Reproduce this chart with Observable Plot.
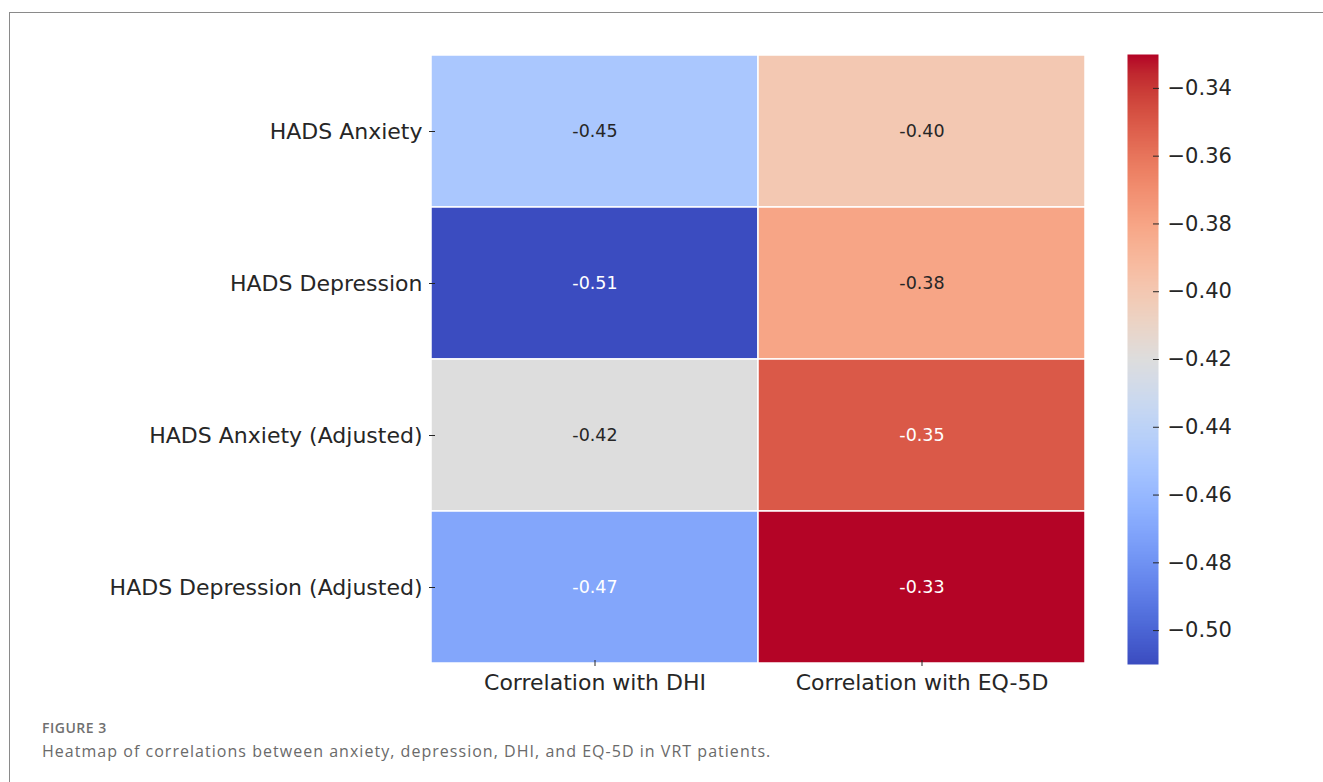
<!DOCTYPE html>
<html>
<head>
<meta charset="utf-8">
<script src="https://cdn.jsdelivr.net/npm/d3@7"></script>
<script src="https://cdn.jsdelivr.net/npm/@observablehq/plot@0.6"></script>
<style>
  html, body { margin: 0; padding: 0; background: #fff; }
  #page { position: relative; width: 1323px; height: 782px; overflow: hidden; background: #fff; }
  #frame { position: absolute; left: 9px; top: 12px; width: 1330px; height: 800px;
           border-left: 1.5px solid #8a8a8a; border-top: 1.5px solid #8a8a8a; }
  #heat { position: absolute; left: 0; top: 0; }
  #bar { position: absolute; left: 1100px; top: 0; }
  #fig-label { position: absolute; left: 42px; top: 718px; font: 600 14px "Open Sans", sans-serif;
               color: #707070; letter-spacing: 0.5px; }
  #fig-caption { position: absolute; left: 42px; top: 740px; font: 400 16px "Open Sans", sans-serif;
                 color: #6a6a6a; letter-spacing: 1.03px; white-space: nowrap; }
</style>
</head>
<body>
<div id="page">
  <div id="frame"></div>
  <div id="heat"></div>
  <div id="bar"></div>
  <div id="fig-label">FIGURE 3</div>
  <div id="fig-caption">Heatmap of correlations between anxiety, depression, DHI, and EQ-5D in VRT patients.</div>
</div>
<script>
// Row and column labels of the correlation matrix
const measures = ["HADS Anxiety", "HADS Depression", "HADS Anxiety (Adjusted)", "HADS Depression (Adjusted)"];
const outcomes = ["Correlation with DHI", "Correlation with EQ-5D"];

// Correlation coefficients, one array per outcome, in the order of `measures`
const withDHI  = [-0.45, -0.51, -0.42, -0.47];
const withEQ5D = [-0.40, -0.38, -0.35, -0.33];

// Colour bar range and ticks
const colorDomain = [-0.51, -0.33];
const colorTicks = [-0.50, -0.48, -0.46, -0.44, -0.42, -0.40, -0.38, -0.36, -0.34];

// Diverging blue–grey–red ramp (cool-warm)
const coolwarmStops = [
  "#3b4cc0", "#445acc", "#4d68d7", "#5775e1", "#6282ea", "#6c8ef1", "#779af7", "#82a5fb",
  "#8db0fe", "#98b9ff", "#a3c2ff", "#aec9fd", "#b8d0f9", "#c2d5f4", "#ccd9ee", "#d5dbe6",
  "#dddddd", "#e5d8d1", "#ecd3c5", "#f1ccb8", "#f5c4ad", "#f7bba0", "#f7b194", "#f7a687",
  "#f49a7b", "#f18d6f", "#ec7f63", "#e57058", "#de604d", "#d55042", "#cb3e38", "#c0282f",
  "#b40426"
];
const coolwarm = d3.piecewise(d3.interpolateRgb, coolwarmStops);

const table = measures.flatMap((m, i) => [
  {measure: m, outcome: outcomes[0], value: withDHI[i]},
  {measure: m, outcome: outcomes[1], value: withEQ5D[i]}
]);

const colorOpts = {type: "linear", domain: colorDomain, interpolate: () => coolwarm, clamp: true};
const toT = d3.scaleLinear().domain(colorDomain).range([0, 1]).clamp(true);
// Dark text on light cells, white text on dark cells (by relative luminance)
function textColor(v) {
  const c = d3.rgb(coolwarm(toT(v)));
  const lin = x => { x /= 255; return x <= 0.03928 ? x / 12.92 : Math.pow((x + 0.055) / 1.055, 2.4); };
  const L = 0.2126 * lin(c.r) + 0.7152 * lin(c.g) + 0.0722 * lin(c.b);
  return L > 0.408 ? "#262626" : "#ffffff";
}

const font = "DejaVu Sans, sans-serif";
const ink = "#262626";

const heat = Plot.plot({
  width: 1110,
  height: 710,
  marginLeft: 430,
  marginRight: 25,
  marginTop: 54,
  marginBottom: 46,
  style: {fontFamily: font, background: "transparent", color: ink, overflow: "visible"},
  x: {domain: outcomes, padding: 0, label: null},
  y: {domain: measures, padding: 0, label: null},
  color: colorOpts,
  marks: [
    Plot.cell(table, {x: "outcome", y: "measure", fill: "value", stroke: "#fff", strokeWidth: 1.5}),
    Plot.text(table, {
      x: "outcome", y: "measure",
      text: d => d.value.toFixed(2),
      fill: d => textColor(d.value),
      fontSize: 17.5
    }),
    Plot.axisX({anchor: "bottom", tickSize: 6, dy: -4, tickPadding: 8, fontSize: 22, label: null, stroke: ink, fill: ink}),
    Plot.axisY({anchor: "left", tickSize: 6, dx: 5, tickPadding: 7, fontSize: 22, label: null, stroke: ink, fill: ink})
  ]
});
document.getElementById("heat").appendChild(heat);

const bar = Plot.plot({
  width: 180,
  height: 710,
  marginLeft: 27,
  marginRight: 122,
  marginTop: 54,
  marginBottom: 46,
  style: {fontFamily: font, background: "transparent", color: ink, overflow: "visible"},
  x: {domain: [0, 1], axis: null},
  y: {domain: colorDomain, label: null, axis: null},
  color: colorOpts,
  marks: [
    Plot.raster({x1: 0, x2: 1, y1: colorDomain[0], y2: colorDomain[1], width: 1, height: 400,
                 fill: (x, y) => y}),
    Plot.axisY(colorTicks, {
      anchor: "right", tickSize: 6, dx: -6, tickPadding: 9, fontSize: 21,
      tickFormat: d3.format(".2f"), label: null, stroke: ink, fill: ink
    })
  ]
});
document.getElementById("bar").appendChild(bar);
</script>
</body>
</html>
